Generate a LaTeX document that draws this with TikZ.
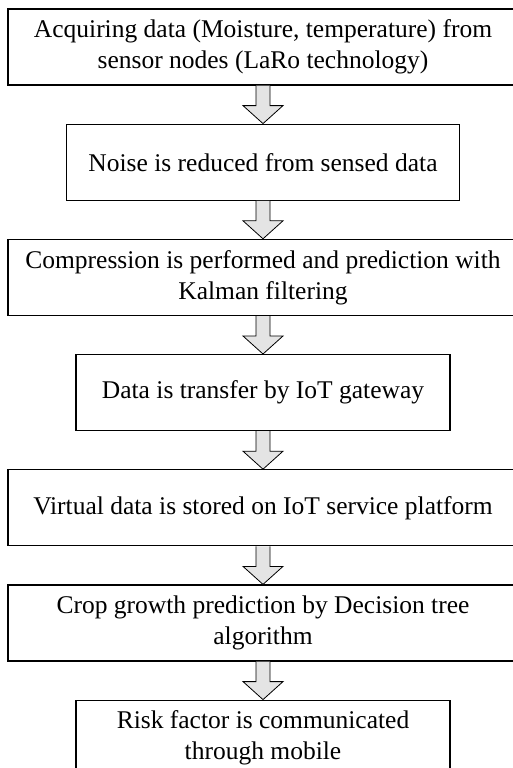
\documentclass[tikz,border=0pt]{standalone}
\usepackage{fontspec}
\setmainfont{Liberation Serif}
\usepackage{tikz}
\usetikzlibrary{positioning}
\definecolor{arrowgray}{RGB}{228,228,228}
\newcommand*{\flowarrow}[2]{%
  \draw[blockarrow] ([xshift=-7pt]#1.south) -- ([xshift=-7pt,yshift=18pt]#2.north)
    -- ([xshift=-20pt,yshift=18pt]#2.north) -- (#2.north)
    -- ([xshift=20pt,yshift=18pt]#2.north) -- ([xshift=7pt,yshift=18pt]#2.north)
    -- ([xshift=7pt]#1.south);}

\begin{document}
\begin{tikzpicture}[node distance=38pt,
    stepbox/.style={draw,line width=1.2pt,minimum height=76pt,align=center,
      font=\fontsize{25.5}{31}\selectfont,inner sep=0pt},
    wide/.style={stepbox,minimum width=510pt},
    narrow/.style={stepbox,minimum width=#1},
    blockarrow/.style={draw,line width=0.8pt,fill=arrowgray,line join=miter}]
    \useasboundingbox (0,0) rectangle (513pt,-768pt);
    \clip (0,0) rectangle (513pt,-768pt);
    \node[wide] (acq) at (263pt,-47pt) {Acquiring data (Moisture, temperature) from\\sensor nodes (LaRo technology)};
    \node[narrow=393pt] (noise) [below = of acq] {Noise is reduced from sensed data};
    \node[wide] (comp) [below = of noise] {Compression is performed and prediction with\\Kalman filtering};
    \node[narrow=374pt] (gateway) [below = of comp] {Data is transfer by IoT gateway};
    \node[wide] (store) [below = of gateway] {Virtual data is stored on IoT service platform};
    \node[wide] (crop) [below = of store] {Crop growth prediction by Decision tree\\algorithm};
    \node[narrow=374pt] (risk) [below = of crop] {Risk factor is communicated\\through mobile};
    \flowarrow{acq}{noise}
    \flowarrow{noise}{comp}
    \flowarrow{comp}{gateway}
    \flowarrow{gateway}{store}
    \flowarrow{store}{crop}
    \flowarrow{crop}{risk}
\end{tikzpicture}
\end{document}
